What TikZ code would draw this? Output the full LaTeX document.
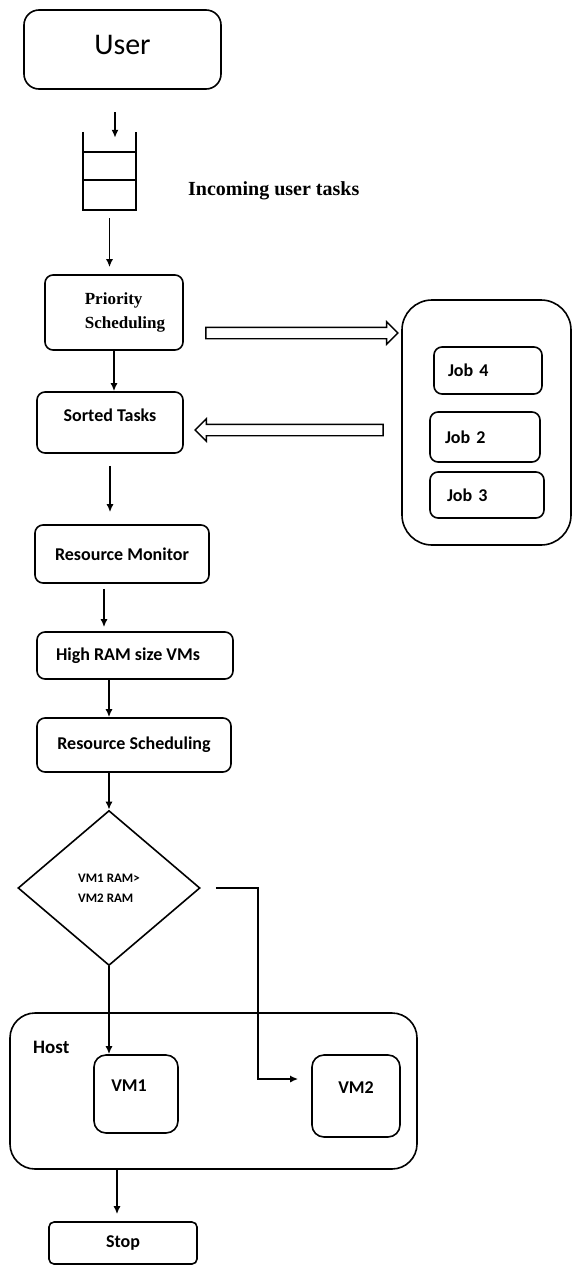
\documentclass[tikz,border=0pt]{standalone}
\usepackage{fontspec}
\setmainfont{Carlito}
\newfontfamily\tnr{Liberation Serif}
\usetikzlibrary{shapes.geometric,shapes.arrows,arrows.meta}

\begin{document}
\begin{tikzpicture}[x=1pt,y=-1pt,
		every node/.style={font=\fontsize{18}{22}\selectfont\bfseries},
		box/.style={draw,line width=1.6pt,rounded corners=8pt,inner sep=0pt},
		jobbox/.style={box,text width=80pt,inner xsep=14pt,align=left},
		vmbox/.style={box,rounded corners=12pt,text depth=16pt},
		arr/.style={line width=1.6pt,-{Latex[length=8pt,width=7pt]}},
		hollow/.style={single arrow,draw,line width=1.4pt,inner sep=5pt,
			single arrow head extend=5.5pt,single arrow tip angle=90}]
		\useasboundingbox (0,0) rectangle (573,1267);
		%user and queue
		\node[box,rounded corners=15pt,minimum width=197pt,minimum height=79pt,
			font=\fontsize{30}{36}\selectfont,text depth=9pt] (user) at (122.5,49.5) {User};
		\node[minimum width=53pt,minimum height=78pt,inner sep=0pt] (queue) at (109.5,171) {};
		\draw[line width=1.6pt] (queue.north west) -- (queue.south west)
			-- (queue.south east) -- (queue.north east);
		\draw[line width=1.6pt] (queue.north west) ++(0,20) -- ++(53,0);
		\draw[line width=1.6pt] (queue.north west) ++(0,48) -- ++(53,0);
		\node[font=\tnr\fontsize{20}{24}\selectfont\bfseries,anchor=west,inner sep=0pt]
			(incoming) at (188,191) {Incoming user tasks};
		\coordinate (qin) at (115,112);
		\draw[arr] (qin) -- ([yshift=-6pt]qin |- queue.north);
		%priority and sorted
		\node[box,minimum width=138pt,minimum height=75pt,align=left,
			font=\tnr\fontsize{17}{24}\selectfont\bfseries] (prio) at (114,312.5)
			{\hspace*{22pt}Priority\\\hspace*{22pt}Scheduling};
		\node[box,minimum width=146pt,minimum height=61pt,text depth=14pt] (sorted) at (110,422.5) {Sorted Tasks};
		\draw[arr,shorten <=8pt,shorten >=7pt] (queue.south) -- (queue.south |- prio.north);
		\draw[arr] (prio.south) -- (prio.south |- sorted.north);
		%jobs
		\node[box,rounded corners=30pt,minimum width=169pt,minimum height=245pt] (jobs) at (486.5,422.5) {};
		\node[jobbox,minimum height=47pt] (job4) at (488,370.5) {Job 4};
		\node[jobbox,minimum height=50pt,minimum width=110pt] (job2) at (485,437) {Job 2};
		\node[jobbox,minimum height=46pt,minimum width=114pt] (job3) at (487,495) {Job 3};
		\node[hollow,minimum height=192pt] (tojobs) at (299,333) {};
		\node[hollow,shape border rotate=180,minimum height=188pt] (fromjobs) at (292,430) {};
		%resources
		\node[box,minimum width=174pt,minimum height=58pt] (resmon) at (122,554) {Resource Monitor};
		\node[box,minimum width=196pt,minimum height=47pt] (highram) at (135,655.5) {High RAM size VMs\hspace*{14pt}};
		\node[box,minimum width=194pt,minimum height=54pt] (ressched) at (134,745) {Resource Scheduling};
		\draw[arr,shorten <=12pt,shorten >=12pt] (sorted.south) -- (sorted.south |- resmon.north);
		\draw[arr,shorten <=5pt,shorten >=4pt] ([xshift=-18pt]resmon.south) -- ([xshift=-18pt]resmon.south |- highram.north);
		\draw[arr] ([xshift=-26pt]highram.south) -- ([xshift=-26pt]highram.south |- ressched.north);
		%decision
		\node[draw,diamond,line width=1.6pt,minimum width=182pt,minimum height=155pt,inner sep=0pt,
			align=left,font=\fontsize{13}{20}\selectfont\bfseries] (diam) at (109,888) {VM1 RAM>\\VM2 RAM};
		\draw[arr] (diam.north |- ressched.south) -- (diam.north);
		%host
		\node[box,rounded corners=25pt,minimum width=407pt,minimum height=156pt] (host) at (213.5,1091) {};
		\node[anchor=west,inner sep=0pt,font=\fontsize{19}{22}\selectfont\bfseries] (hostlabel) at (33,1047) {Host};
		\node[vmbox,minimum width=84pt,minimum height=78pt] (vm1) at (136,1094) {VM1\hspace*{14pt}};
		\node[vmbox,minimum width=88pt,minimum height=82pt] (vm2) at (356,1096) {VM2};
		\draw[arr] (diam.south) -- (diam.south |- vm1.north);
		\draw[arr] ([xshift=15pt]diam.east) -- ++(42,0) |- ([xshift=-13pt,yshift=17pt]vm2.west);
		%stop
		\node[box,rounded corners=5pt,minimum width=148pt,minimum height=42pt] (stop) at (123,1243) {Stop};
		\draw[arr,shorten >=7pt] ([xshift=-6pt]stop.north |- host.south) -- ([xshift=-6pt]stop.north);
	\end{tikzpicture}
\end{document}
